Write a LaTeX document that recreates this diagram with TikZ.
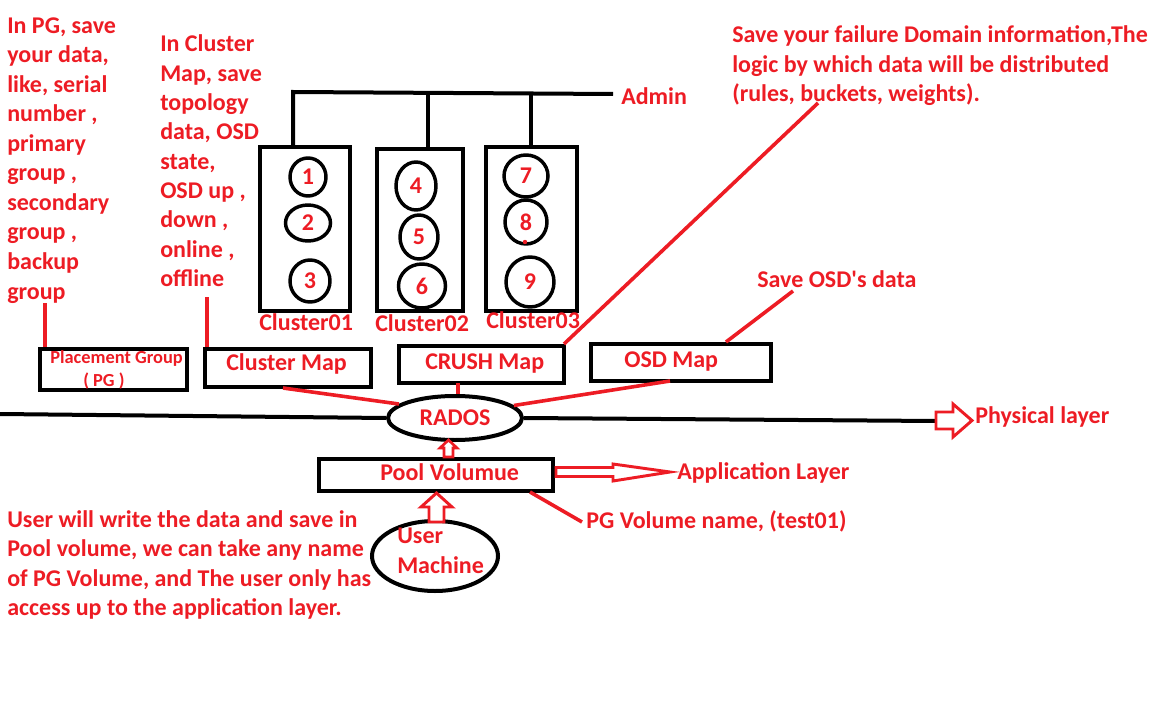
\documentclass[tikz,border=0pt]{standalone}
\usepackage{fontspec}
\setmainfont{Carlito}
\usetikzlibrary{shapes.geometric}
\definecolor{pred}{RGB}{237,28,36}
\begin{document}
\begin{tikzpicture}[x=0.75pt,y=-0.75pt,
  txt/.style={text=pred,font=\bfseries\fontsize{18}{22}\selectfont,inner sep=0pt,anchor=base west},
  smalltxt/.style={txt,font=\bfseries\fontsize{13.8}{16}\selectfont},
  blk/.style={draw=black,line width=3pt},
  boxn/.style={draw=black,line width=3pt,rectangle,inner sep=0pt},
  osd/.style={draw=black,line width=2.6pt,ellipse,inner sep=0pt,text=pred,font=\bfseries\fontsize{18}{22}\selectfont},
  ell/.style={draw=black,line width=3pt,ellipse,inner sep=0pt},
  redl/.style={draw=pred,line width=2.7pt},
  hollow/.style={draw=pred,line width=2.2pt,fill=white,line join=miter}]
\useasboundingbox (0,0) rectangle (1152,720);

% ---------- left text (PG) ----------
\foreach \t [count=\i from 0] in {{In PG, save},{your data,},{like, serial},{number ,},{primary},{group ,},{secondary},{group ,},{backup},{group}}
  \node[txt] (pgt\i) at (7,{33.5+29.5*\i}) {\t};

% ---------- cluster map text ----------
\foreach \t [count=\i from 0] in {{In Cluster},{Map, save},{topology},{data, OSD},{state,},{OSD up ,},{down ,},{online ,},{offline}}
  \node[txt] (cmt\i) at (160,{52+29.3*\i}) {\t};

% ---------- crush text ----------
\foreach \t [count=\i from 0] in {{Save your failure Domain information,The},{logic by which data will be distributed},{(rules, buckets, weights).}}
  \node[txt] (crt\i) at (732,{43+29.5*\i}) {\t};

\node[txt] (admin) at (621,105) {Admin};
\node[txt] (osdt) at (757,287) {Save OSD\textquotesingle s data};

% ---------- clusters ----------
\node[boxn,minimum width=67.5pt,minimum height=123pt] (c1) at (305,229) {};
\node[boxn,minimum width=64.5pt,minimum height=121.5pt] (c2) at (420,230) {};
\node[boxn,minimum width=68.25pt,minimum height=123pt] (c3) at (531.5,229) {};

\node[osd,minimum width=27pt,minimum height=28.5pt] (o1) at (308,177) {1};
\node[osd,minimum width=33.75pt,minimum height=27pt] (o2) at (308,223) {2};
\node[osd,minimum width=30pt,minimum height=31.5pt] (o3) at (310,281) {3};
\node[osd,minimum width=30pt,minimum height=36pt] (o4) at (416,186) {4};
\node[osd,minimum width=28.5pt,minimum height=33pt] (o5) at (419,237) {5};
\node[osd,minimum width=35.25pt,minimum height=33pt] (o6) at (422,286) {6};
\node[osd,minimum width=33pt,minimum height=31.5pt] (o7) at (526,176) {7};
\node[osd,minimum width=31.5pt,minimum height=33pt] (o8) at (526,222) {8};
\node[osd,minimum width=36pt,minimum height=37.5pt] (o9) at (530,282) {9};
\fill[pred] (525,242) circle (2.2);

\node[txt] (l1) at (259,330) {Cluster01};
\node[txt] (l2) at (375,331) {Cluster02};
\node[txt] (l3) at (486,328) {Cluster03};

% ---------- admin bus ----------
\coordinate (busL) at (293,92);
\coordinate (busR) at (613,94);
\coordinate (b2) at (428,92);
\coordinate (b3) at (531,92);
\draw[blk] (busR) -- (busL) -- (busL |- c1.north);
\draw[blk] (b2) -- (b2 |- c2.north);
\draw[blk] (b3) -- (b3 |- c3.north);

% ---------- map boxes ----------
\node[boxn,minimum width=110.25pt,minimum height=30.75pt] (pgbox) at (113.5,369.5) {};
\node[smalltxt] (pgl1) at (50,363) {Placement Group};
\node[smalltxt] (pgl2) at (83,386) {( PG )};

\node[boxn,minimum width=124.5pt,minimum height=28.5pt] (cmap) at (288,368) {};
\node[txt] (cmapt) at (226,370) {Cluster Map};

\node[boxn,minimum width=123.75pt,minimum height=27.75pt] (crush) at (481.5,364.5) {};
\node[txt] (crusht) at (425,369) {CRUSH Map};

\node[boxn,minimum width=135pt,minimum height=27.75pt] (osdm) at (681,362.5) {};
\node[txt] (osdmt) at (624,367) {OSD Map};

% ---------- RADOS ----------
\node[ell,minimum width=100.5pt,minimum height=33pt,text=pred,font=\bfseries\fontsize{18}{22}\selectfont] (rados) at (455,418) {RADOS};

% physical line
\coordinate (pl0) at (0,414);
\coordinate (phyA) at (936,421);
\draw[blk] (pl0) -- (rados.west);
\draw[blk] (rados.east) -- (phyA);
\draw[hollow] (936,412) -- (953,412) -- (953,404) -- (972,420.5) -- (953,437) -- (953,429) -- (936,429) -- cycle;
\node[txt] (phyt) at (975,423) {Physical layer};

% ---------- pool ----------
\node[boxn,minimum width=175.5pt,minimum height=24pt] (pool) at (436,475) {};
\node[txt] (poolt) at (380,480) {Pool Volumue};

% small up arrow pool -> rados
\draw[hollow,line width=2pt] (444,457) -- (444,448) -- (440,448) -- (448.5,440) -- (457,448) -- (453,448) -- (453,457) -- cycle;

% application arrow
\draw[hollow] (556,467.5) -- (613,467.5) -- (613,464) -- (670,472) -- (613,481) -- (613,476.5) -- (556,476.5) -- cycle;
\node[txt] (appt) at (677,479) {Application Layer};

% PG volume name
\coordinate (pgv) at (582,522);
\draw[redl] (pool.south -| 530,0) ++(0,-1) -- (pgv);
\node[txt] (pgvt) at (586,528) {PG Volume name, (test01)};

% ---------- user machine ----------
\node[ell,minimum width=94.5pt,minimum height=52.5pt] (user) at (435,556) {};
\node[txt] (u1) at (397,543) {User};
\node[txt] (u2) at (397,573) {Machine};
\draw[hollow] (429,522) -- (429,507) -- (421,507) -- (436.5,493) -- (452,507) -- (444,507) -- (444,522) -- cycle;

% ---------- bottom text ----------
\foreach \t [count=\i from 0] in {{User will write the data and save in},{Pool volume, we can take any name},{of PG Volume, and The user only has},{access up to the application layer.}}
  \node[txt] (bt\i) at (7,{527+29.5*\i}) {\t};

% ---------- red connectors ----------
\coordinate (pgend) at (45,303);
\draw[redl] (pgend) -- (pgend |- pgbox.north);
\coordinate (cmend) at (207,297);
\draw[redl] (cmend) -- (cmend |- cmap.north);
\coordinate (cmb) at (283,388);
\draw[redl] (cmb) -- (rados.166);
\coordinate (crb) at (458,383);
\draw[redl] (crb) -- (crb |- rados.north);
\coordinate (osb) at (670,381);
\draw[redl] (osb) -- (rados.12);
\coordinate (crtop) at (818,103);
\draw[redl] (crush.north east) ++(-2,0) -- (crtop);
\coordinate (ostop) at (793,291);
\draw[redl] (osdm.north -| 726,0) -- (ostop);
\end{tikzpicture}
\end{document}
